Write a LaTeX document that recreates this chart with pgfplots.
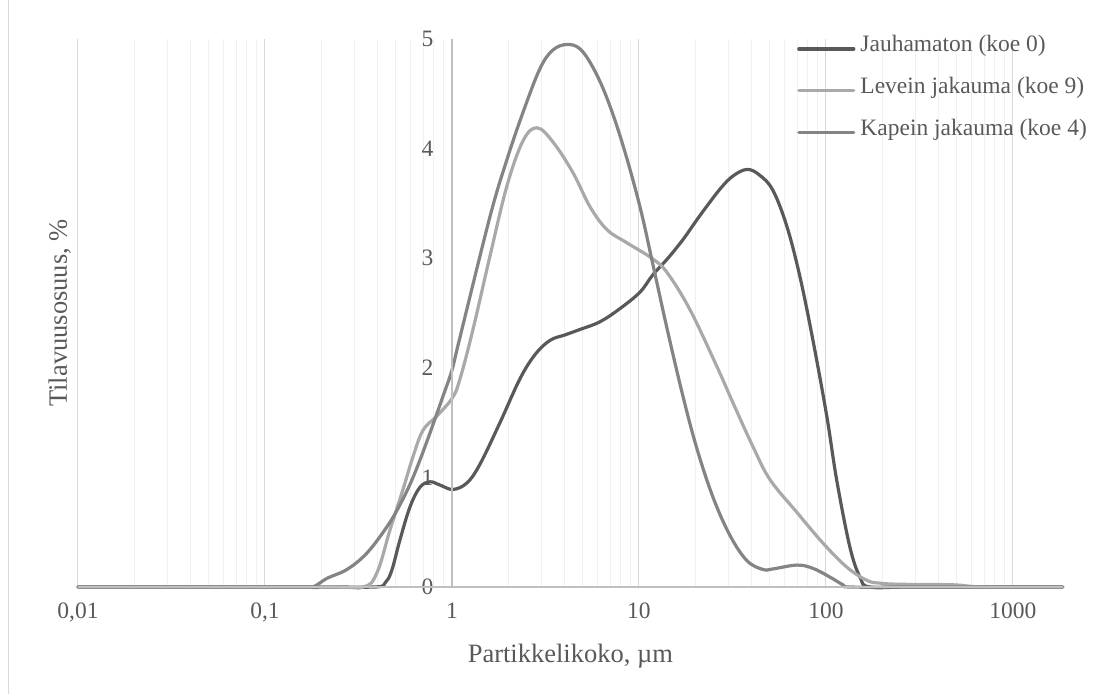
\documentclass[border=0pt]{standalone}
\usepackage{pgfplots}
\pgfplotsset{compat=1.18}
\usepackage{fontspec}
\setmainfont{Liberation Serif}
\definecolor{txt}{HTML}{595959}
\definecolor{cdark}{HTML}{595959}
\definecolor{clight}{HTML}{A9A9A9}
\definecolor{cmed}{HTML}{848484}
\definecolor{gmaj}{HTML}{D9D9D9}
\definecolor{gmin}{HTML}{F0F0F0}
\definecolor{axl}{HTML}{BFBFBF}
\begin{document}
\begin{tikzpicture}
\path[use as bounding box] (-78bp,-107bp) rectangle (1024bp,587bp);
\draw[gmaj, line width=1bp] (-69bp,-107bp) -- (-69bp,587bp);
\begin{axis}[
  at={(0,0)}, anchor=south west,
  scale only axis, width=984.7bp, height=548bp,
  xmode=log, log basis x=10,
  xmin=0.01, xmax=1845, ymin=0, ymax=5,
  clip=false,
  axis line style={draw=none},
  tick style={draw=none},
  xtick={0.01,0.1,1,10,100,1000},
  xticklabels={{0,01},{0,1},1,10,100,1000},
  minor xtick={0.02,0.03,0.04,0.05,0.06,0.07,0.08,0.09,
               0.2,0.3,0.4,0.5,0.6,0.7,0.8,0.9,
               2,3,4,5,6,7,8,9,
               20,30,40,50,60,70,80,90,
               200,300,400,500,600,700,800,900},
  ytick={0,1,2,3,4,5},
  /pgf/number format/assume math mode=true,
  xmajorgrids, xminorgrids,
  major x grid style={gmaj, line width=1bp},
  minor x grid style={gmin, line width=1bp},
  ymajorgrids=false,
  ticklabel style={font=\fontsize{23.5bp}{28bp}\selectfont, text=txt},
  xticklabel style={yshift=-12bp},
  yticklabel style={xshift=359bp},
  xlabel={Partikkelikoko, µm},
  ylabel={Tilavuusosuus, \%},
  label style={font=\fontsize{26.5bp}{32bp}\selectfont, text=txt},
  xlabel style={at={(axis description cs:0.5,0)}, anchor=base, yshift=-75bp},
  ylabel style={at={(axis description cs:-0.0112,0.5)}, anchor=base},
  legend cell align=left,
  legend image code/.code={\draw[#1, line width=3.2bp] (0bp,0bp) -- (55bp,0bp);},
  legend style={at={(axis description cs:0.7302,0.995)}, anchor=north west,
    draw=none, fill=none, inner sep=0pt, row sep=28bp, column sep=3bp,
    font=\fontsize{23.5bp}{28bp}\selectfont, text=txt,
    nodes={inner sep=2bp, text depth=0.25em, text height=0.75em}},
  every axis plot/.append style={line width=3.2bp, smooth, tension=0.6, line join=round, line cap=round},
]
\addplot[cdark] coordinates {
(0.01,0) (0.2,0) (0.39,0) (0.44,0.04) (0.476,0.15) (0.527,0.43) (0.596,0.73) (0.674,0.91)
(0.763,0.96) (0.863,0.93) (1.012,0.89) (1.203,0.95) (1.411,1.12) (1.806,1.5)
(2.31,1.9) (2.78,2.12) (3.34,2.25) (4.02,2.3) (4.84,2.35) (6.19,2.42) (7.91,2.54)
(10.12,2.69) (11.88,2.85) (14.12,2.99) (17.19,3.17) (21.2,3.39) (27.1,3.63)
(31.83,3.75) (37.8,3.81) (44,3.76) (52,3.62) (61.8,3.29) (72.6,2.83) (85.2,2.25)
(101.2,1.55) (114,0.98) (134,0.37) (152,0.09) (172,0) (300,0) (1845,0)
};
\addlegendentry{Jauhamaton (koe 0)}
\addplot[clight] coordinates {
(0.01,0) (0.2,0) (0.334,0) (0.397,0.13) (0.466,0.52) (0.547,0.89) (0.619,1.19)
(0.70,1.43) (0.83,1.56) (1.0,1.72) (1.10,1.89) (1.295,2.35) (1.597,3.02)
(1.968,3.66) (2.397,4.07) (2.848,4.19) (3.468,4.06) (4.437,3.78) (5.47,3.47)
(6.745,3.26) (8.626,3.14) (11.7,3.0) (14.12,2.87) (18.74,2.53) (26.13,2.01)
(31.83,1.68) (40.71,1.28) (50.18,0.98) (69.98,0.68) (96.39,0.40) (129.5,0.18)
(165.7,0.06) (194.5,0.035) (250,0.025) (478,0.02) (700,0) (1845,0)
};
\addlegendentry{Levein jakauma (koe 9)}
\addplot[cmed] coordinates {
(0.01,0) (0.15,0) (0.18,0) (0.215,0.08) (0.2745,0.16) (0.351,0.31) (0.449,0.55)
(0.527,0.75) (0.619,1.0) (0.735,1.33) (0.895,1.74) (1.0,1.98) (1.104,2.28)
(1.597,3.38) (1.968,3.9) (2.397,4.33) (2.955,4.73) (3.468,4.9) (4.121,4.95)
(4.836,4.91) (5.675,4.74) (6.745,4.46) (8.211,4.03) (10.12,3.47) (11.88,2.94)
(14.12,2.36) (17.19,1.74) (20.43,1.26) (24.87,0.82) (30.67,0.47) (37.8,0.24)
(46.03,0.16) (52.07,0.165) (69.98,0.20) (85.22,0.17) (105.1,0.09) (123.3,0.02)
(134.4,0) (300,0) (1845,0)
};
\addlegendentry{Kapein jakauma (koe 4)}
\draw[axl, line width=1.2bp] (rel axis cs:0,0) -- (rel axis cs:1,0);
\draw[axl, line width=1.2bp] (axis cs:1,0) -- (axis cs:1,5);
\end{axis}
\end{tikzpicture}
\end{document}
